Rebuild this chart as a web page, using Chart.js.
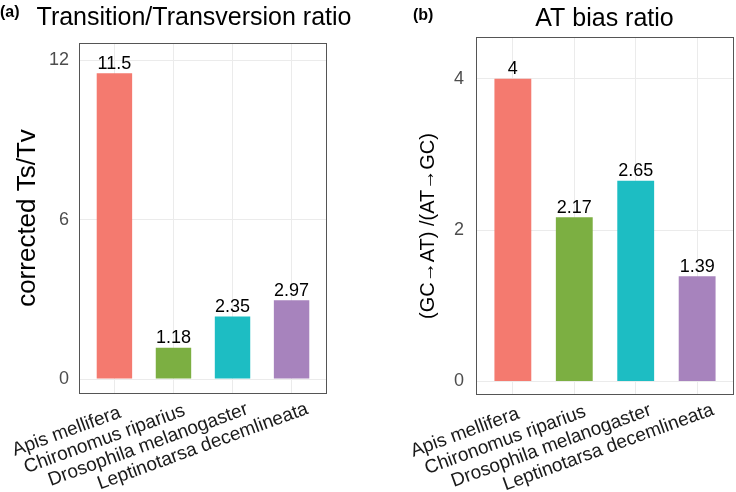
<!DOCTYPE html>
<html>
<head>
<meta charset="utf-8">
<script src="https://cdn.jsdelivr.net/npm/chart.js@4.4.1/dist/chart.umd.min.js"></script>
<style>
  body { margin: 0; background: #fff; }
  #wrap { position: relative; width: 736px; height: 492px; overflow: hidden; }
  canvas { position: absolute; top: 0; }
  #chart-a { left: 0; }
  #chart-b { left: 368px; }
</style>
</head>
<body>
<div id="wrap">
  <canvas id="chart-a" width="368" height="492"></canvas>
  <canvas id="chart-b" width="368" height="492"></canvas>
</div>
<script>
// data
const species = ['Apis mellifera', 'Chironomus riparius', 'Drosophila melanogaster', 'Leptinotarsa decemlineata'];
const tsTv = [11.5, 1.18, 2.35, 2.97];
const atBias = [4, 2.17, 2.65, 1.39];
const tsTvTicks = [0, 6, 12];
const atBiasTicks = [0, 2, 4];
const barColors = ['#F47A6F', '#7CAF42', '#1DBDC3', '#A783BD'];

const FONT = "'Liberation Sans', Arial, sans-serif";
const LABEL_ANGLE = 20 * Math.PI / 180;

// draws panel border, titles, tags, y label, x labels and value labels
const decor = {
  id: 'decor',
  afterDatasetsDraw(chart, args, opts) {
    const ctx = chart.ctx;
    const area = chart.chartArea;
    const xScale = chart.scales.x;
    ctx.save();

    // bar value labels
    const meta = chart.getDatasetMeta(0);
    ctx.fillStyle = '#000';
    ctx.font = '18px ' + FONT;
    ctx.textAlign = 'center';
    ctx.textBaseline = 'alphabetic';
    meta.data.forEach((bar, i) => {
      ctx.fillText(String(chart.data.datasets[0].data[i].y), bar.x, bar.y - 4.5);
    });

    // panel border
    ctx.strokeStyle = '#555';
    ctx.lineWidth = 1;
    ctx.strokeRect(Math.round(area.left) + 0.5, Math.round(area.top) + 0.5,
      Math.round(area.right - area.left) - 1, Math.round(area.bottom - area.top) - 1);

    // rotated category labels (ggplot-like justification)
    ctx.fillStyle = '#1a1a1a';
    ctx.font = '19px ' + FONT;
    ctx.textAlign = 'left';
    ctx.textBaseline = 'middle';
    species.forEach((name, i) => {
      const w = ctx.measureText(name).width;
      ctx.save();
      ctx.translate(xScale.getPixelForValue(i + 1) - 5, area.bottom + 22);
      ctx.rotate(-LABEL_ANGLE);
      ctx.fillText(name, -0.9 * w, 0);
      ctx.restore();
    });

    // tag
    ctx.fillStyle = '#000';
    ctx.font = 'bold 16px ' + FONT;
    ctx.fillText(opts.tag, opts.tagX, opts.tagY);

    // title
    ctx.font = '25px ' + FONT;
    ctx.textAlign = 'center';
    ctx.fillText(opts.title, opts.titleX, opts.titleY);

    // y axis title
    ctx.translate(opts.ylabX, opts.ylabY);
    ctx.rotate(-Math.PI / 2);
    ctx.font = opts.ylabSize + 'px ' + FONT;
    ctx.fillText(opts.ylab, 0, 0);
    ctx.restore();
  }
};

function makeChart(id, values, yTicks, yMin, yMax, box, texts) {
  const ctx = document.getElementById(id).getContext('2d');
  return new Chart(ctx, {
    type: 'bar',
    data: {
      datasets: [{
        data: values.map((v, i) => ({ x: i + 1, y: v })),
        backgroundColor: barColors,
        borderWidth: 0,
        barPercentage: 0.6,
        categoryPercentage: 1
      }]
    },
    plugins: [decor],
    options: {
      responsive: false,
      animation: false,
      layout: {
        autoPadding: false,
        padding: { top: box.top, right: box.right, left: 0, bottom: 0 }
      },
      plugins: {
        legend: { display: false },
        tooltip: { enabled: false },
        decor: texts
      },
      scales: {
        x: {
          type: 'linear',
          min: 0.4,
          max: 4.6,
          offset: false,
          afterBuildTicks: (s) => { s.ticks = species.map((_, i) => ({ value: i + 1 })); },
          afterFit: (s) => { s.height = box.xHeight; s.paddingLeft = 0; s.paddingRight = 0; },
          grid: { color: '#EBEBEB', lineWidth: 1, drawTicks: false, offset: false },
          border: { display: false },
          ticks: { display: false }
        },
        y: {
          min: yMin,
          max: yMax,
          afterBuildTicks: (s) => { s.ticks = yTicks.map(v => ({ value: v })); },
          afterFit: (s) => { s.width = box.left; s.paddingTop = 0; s.paddingBottom = 0; },
          grid: { color: '#EBEBEB', lineWidth: 1, drawTicks: false },
          border: { display: false },
          ticks: {
            padding: box.yPad,
            color: '#4D4D4D',
            font: { family: FONT, size: 18 }
          }
        }
      }
    }
  });
}

makeChart('chart-a', tsTv, tsTvTicks, -0.56, 12.64,
  { top: 43, right: 41, left: 79, xHeight: 98, yPad: 10 },
  { tag: '(a)', tagX: 0, tagY: 13, title: 'Transition/Transversion ratio', titleX: 194, titleY: 18,
    ylab: 'corrected Ts/Tv', ylabX: 28, ylabY: 218, ylabSize: 26 });

makeChart('chart-b', atBias, atBiasTicks, -0.18, 4.55,
  { top: 37, right: 2, left: 108, xHeight: 97, yPad: 12 },
  { tag: '(b)', tagX: 45, tagY: 16, title: 'AT bias ratio', titleX: 236.5, titleY: 19,
    ylab: '(GC\u2192AT) /(AT\u2192GC)', ylabX: 60, ylabY: 226, ylabSize: 20 });
</script>
</body>
</html>
